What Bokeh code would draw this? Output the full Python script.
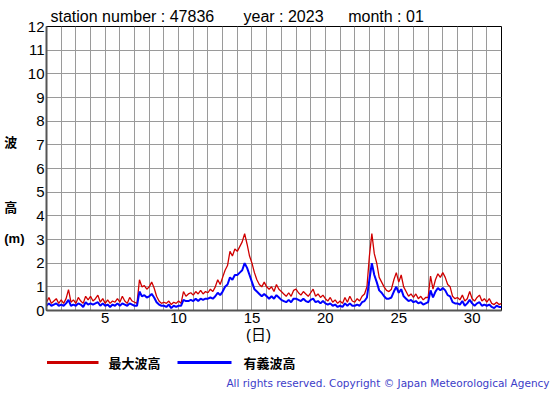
from bokeh.plotting import figure
from bokeh.models import Range1d, FixedTicker, LinearAxis
from bokeh.layouts import column
from bokeh.core.properties import value
from bokeh.embed import file_html
from bokeh.resources import INLINE

# ---- data (4-hourly samples, 1 Jan 00h .. 1 Feb 00h) ----
step_hours = 4
max_wave = [
    0.35, 0.55, 0.30, 0.40, 0.50, 0.30,   # 1
    0.45, 0.30, 0.50, 0.88, 0.35, 0.45,   # 2
    0.30, 0.55, 0.40, 0.30, 0.60, 0.45,   # 3
    0.60, 0.40, 0.50, 0.65, 0.35, 0.50,   # 4
    0.30, 0.45, 0.30, 0.40, 0.35, 0.50,   # 5
    0.35, 0.60, 0.40, 0.30, 0.55, 0.40,   # 6
    0.35, 0.30, 1.30, 1.00, 1.05, 0.90,   # 7
    1.00, 1.20, 0.95, 0.60, 0.40, 0.30,   # 8
    0.35, 0.30, 0.40, 0.25, 0.35, 0.30,   # 9
    0.40, 0.30, 0.80, 0.60, 0.70, 0.75,   # 10
    0.65, 0.80, 0.70, 0.85, 0.70, 0.80,   # 11
    0.75, 0.90, 0.80, 1.00, 1.30, 1.10,   # 12
    1.40, 1.70, 1.90, 2.50, 2.30, 2.60,   # 13
    2.50, 2.70, 2.90, 3.25, 2.80, 2.30,   # 14
    2.00, 1.60, 1.30, 1.10, 1.00, 1.20,   # 15
    1.00, 0.90, 1.00, 0.80, 1.10, 0.90,   # 16
    0.80, 0.70, 0.60, 0.75, 0.60, 0.85,   # 17
    0.90, 0.75, 0.65, 0.80, 0.70, 0.60,   # 18
    0.75, 0.90, 0.60, 0.70, 0.55, 0.65,   # 19
    0.50, 0.40, 0.55, 0.35, 0.45, 0.30,   # 20
    0.40, 0.30, 0.55, 0.35, 0.60, 0.40,   # 21
    0.35, 0.50, 0.40, 0.60, 0.70, 1.00,   # 22
    2.30, 3.25, 2.40, 2.00, 1.40, 1.20,   # 23
    1.00, 0.85, 0.80, 0.90, 1.30, 1.60,   # 24
    1.20, 1.50, 1.00, 0.80, 0.60, 0.70,   # 25
    0.55, 0.70, 0.50, 0.60, 0.45, 0.55,   # 26
    0.55, 1.45, 0.90, 1.30, 1.55, 1.40,   # 27
    1.60, 1.40, 1.10, 1.00, 0.60, 0.50,   # 28
    0.55, 0.45, 0.65, 0.40, 0.50, 0.80,   # 29
    0.50, 0.40, 0.55, 0.65, 0.40, 0.50,   # 30
    0.35, 0.50, 0.30, 0.25, 0.35, 0.25,   # 31
    0.30,
]
sig_wave = [
    0.20, 0.30, 0.20, 0.25, 0.30, 0.20,   # 1
    0.25, 0.20, 0.30, 0.45, 0.20, 0.25,   # 2
    0.20, 0.30, 0.25, 0.15, 0.35, 0.25,   # 3
    0.30, 0.25, 0.30, 0.35, 0.20, 0.30,   # 4
    0.20, 0.25, 0.15, 0.25, 0.20, 0.30,   # 5
    0.20, 0.30, 0.25, 0.20, 0.30, 0.25,   # 6
    0.20, 0.20, 0.80, 0.60, 0.65, 0.55,   # 7
    0.60, 0.70, 0.55, 0.35, 0.25, 0.20,   # 8
    0.20, 0.15, 0.25, 0.10, 0.20, 0.15,   # 9
    0.20, 0.20, 0.45, 0.40, 0.40, 0.45,   # 10
    0.40, 0.50, 0.40, 0.50, 0.45, 0.50,   # 11
    0.50, 0.55, 0.50, 0.60, 0.75, 0.65,   # 12
    0.80, 1.00, 1.10, 1.40, 1.30, 1.50,   # 13
    1.50, 1.60, 1.70, 2.00, 1.80, 1.50,   # 14
    1.20, 0.90, 0.80, 0.70, 0.60, 0.70,   # 15
    0.60, 0.50, 0.60, 0.50, 0.65, 0.55,   # 16
    0.45, 0.40, 0.35, 0.45, 0.35, 0.50,   # 17
    0.50, 0.45, 0.40, 0.50, 0.40, 0.35,   # 18
    0.45, 0.50, 0.35, 0.40, 0.30, 0.40,   # 19
    0.30, 0.25, 0.30, 0.20, 0.25, 0.15,   # 20
    0.20, 0.15, 0.30, 0.20, 0.30, 0.20,   # 21
    0.20, 0.25, 0.20, 0.35, 0.40, 0.55,   # 22
    1.30, 2.00, 1.50, 1.20, 0.85, 0.75,   # 23
    0.60, 0.50, 0.50, 0.55, 0.80, 1.00,   # 24
    0.75, 0.90, 0.60, 0.50, 0.40, 0.45,   # 25
    0.35, 0.40, 0.30, 0.35, 0.25, 0.30,   # 26
    0.35, 0.85, 0.55, 0.80, 0.95, 0.85,   # 27
    0.95, 0.85, 0.65, 0.60, 0.35, 0.30,   # 28
    0.30, 0.25, 0.40, 0.20, 0.30, 0.45,   # 29
    0.30, 0.20, 0.30, 0.35, 0.20, 0.25,   # 30
    0.20, 0.25, 0.15, 0.10, 0.20, 0.15,   # 31
    0.15,
]
day_ticks = [5, 10, 15, 20, 25, 30]
height_ticks = list(range(0, 13))
title_parts = ["station number : 47836", "year : 2023", "month : 01"]
ylabel_parts = ["波\u00a0\u00a0", "高\u00a0\u00a0", "(m)"]
xlabel_text = "(日)"
legend_names = ["最大波高", "有義波高"]
legend_colors = ["#cc0000", "#0000ff"]
copyright_text = "All rights reserved. Copyright © Japan Meteorological Agency"

days = [1 + i * step_hours / 24 for i in range(len(max_wave))]

LATIN = "Liberation Sans"
CJK = "Noto Sans CJK JP"
MIXED = "Liberation Sans, Noto Sans CJK JP"

p = figure(width=555, height=352, output_backend="svg", toolbar_location=None,
           x_range=Range1d(1, 32), y_range=Range1d(0, 12),
           min_border_left=46, min_border_right=54, min_border_top=26, min_border_bottom=42)
p.outline_line_color = "black"
p.outline_line_width = 1
p.background_fill_color = "white"
p.border_fill_color = "white"

p.xaxis.ticker = FixedTicker(ticks=day_ticks)
p.yaxis.ticker = FixedTicker(ticks=height_ticks)
p.xgrid.ticker = FixedTicker(ticks=list(range(1, 33)))
p.ygrid.ticker = FixedTicker(ticks=height_ticks)
for g in (p.xgrid, p.ygrid):
    g.grid_line_color = "#9a9a9a"
    g.grid_line_width = 1


def plain(ax, font, size, style="normal", color="black", line=False):
    ax.major_tick_out = 0
    ax.major_tick_in = 0
    ax.minor_tick_out = 0
    ax.minor_tick_in = 0
    ax.axis_line_color = "#555555" if line else None
    ax.axis_line_width = 2
    ax.major_label_text_font = font
    ax.major_label_text_font_size = size
    ax.major_label_text_font_style = style
    ax.major_label_text_color = color


plain(p.xaxis[0], LATIN, "15px", line=True)
plain(p.yaxis[0], LATIN, "15px", line=True)
p.xaxis.major_label_standoff = 2
p.yaxis.major_label_standoff = 2

p.line(days, max_wave, line_color="#d00000", line_width=1.3)
p.line(days, sig_wave, line_color="#0000ff", line_width=2)

# title row (text-only axis above the frame)
title_pos = [6.85, 17.15, 24.13]
top_ax = LinearAxis(ticker=FixedTicker(ticks=title_pos),
                    major_label_overrides={k: v for k, v in zip(title_pos, title_parts)})
plain(top_ax, LATIN, "16px")
top_ax.major_label_standoff = 2
p.add_layout(top_ax, "above")

# vertical y title (text-only axis, left of tick labels)
ylab_pos = [7.1, 4.35, 3.04]
left_ax = LinearAxis(ticker=FixedTicker(ticks=ylab_pos),
                     major_label_overrides={k: v for k, v in zip(ylab_pos, ylabel_parts)})
plain(left_ax, MIXED, "13px", style="bold")
left_ax.major_label_standoff = 0
p.add_layout(left_ax, "left")

# x title
xlab_pos = [15.44]
xlab_ax = LinearAxis(ticker=FixedTicker(ticks=xlab_pos), major_label_overrides={xlab_pos[0]: xlabel_text})
plain(xlab_ax, MIXED, "15px")
xlab_ax.major_label_standoff = 0
p.add_layout(xlab_ax, "below")

# ---- legend + copyright strip (frame aligned with the chart frame, px units) ----
q = figure(width=555, height=43, output_backend="svg", toolbar_location=None,
           x_range=Range1d(46, 501), y_range=Range1d(0, 20), y_axis_location=None,
           min_border_left=46, min_border_right=54, min_border_top=0, min_border_bottom=23)
q.grid.visible = False
q.outline_line_color = None
q.background_fill_color = "white"
q.border_fill_color = "white"
q.line([46.5, 98], [10, 10], line_color=legend_colors[0], line_width=3)
q.line([177, 231], [10, 10], line_color=legend_colors[1], line_width=3)
q.text(x=[108, 243], y=[10, 10], text=legend_names, text_font=value(CJK), text_font_size="13px",
       text_font_style="bold", text_baseline="middle", text_align="left", text_color="black")
cp_pos = [387.5]
q.xaxis.ticker = FixedTicker(ticks=cp_pos)
q.xaxis.major_label_overrides = {cp_pos[0]: copyright_text}
plain(q.xaxis[0], "DejaVu Sans", "10.5px", color="#3c3cc8")
q.xaxis.major_label_standoff = 4

layout = column(p, q, spacing=0)
open("out.html", "w").write(file_html(layout, INLINE))
